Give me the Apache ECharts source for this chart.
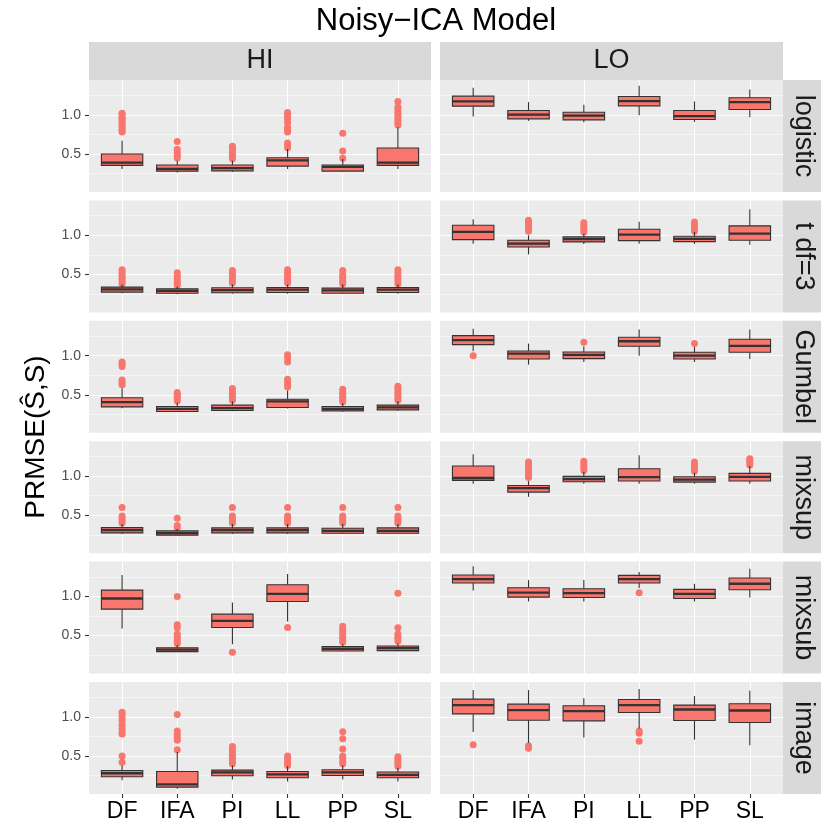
<!DOCTYPE html>
<html>
<head>
<meta charset="utf-8">
<script src="https://cdn.jsdelivr.net/npm/echarts@6/dist/echarts.min.js"></script>
<style>
  html, body { margin: 0; padding: 0; background: #fff; }
  #chart { width: 830px; height: 830px; }
</style>
</head>
<body>
<div id="chart"></div>
<script>
var methods = ['DF', 'IFA', 'PI', 'LL', 'PP', 'SL'];
var levels = ['HI', 'LO'];
var sources = ['logistic', 't df=3', 'Gumbel', 'mixsup', 'mixsub', 'image'];
var yTicks = [0.5, 1.0];
var yMinor = [0.25, 0.75, 1.25];
var xTicks = [0, 1, 2, 3, 4, 5];

// box stats per method: [lower whisker, Q1, median, Q3, upper whisker]
var logisticHI = [[0.31, 0.355, 0.39, 0.50, 0.67], [0.265, 0.282, 0.31, 0.359, 0.415], [0.27, 0.285, 0.32, 0.36, 0.415],
                  [0.31, 0.346, 0.42, 0.453, 0.564], [0.278, 0.282, 0.337, 0.359, 0.436], [0.31, 0.355, 0.39, 0.577, 0.842]];
var logisticLO = [[0.98, 1.111, 1.171, 1.239, 1.346], [0.923, 0.949, 1.004, 1.056, 1.162], [0.906, 0.936, 0.99, 1.034, 1.128],
                  [0.996, 1.115, 1.175, 1.235, 1.372], [0.91, 0.94, 0.983, 1.056, 1.171], [0.97, 1.068, 1.162, 1.218, 1.325]];
var tdfHI = [[0.26, 0.274, 0.31, 0.338, 0.372], [0.248, 0.26, 0.29, 0.316, 0.346], [0.252, 0.265, 0.30, 0.329, 0.372],
             [0.252, 0.269, 0.305, 0.333, 0.372], [0.25, 0.26, 0.295, 0.325, 0.372], [0.252, 0.269, 0.305, 0.333, 0.372]];
var tdfLO = [[0.893, 0.944, 1.043, 1.128, 1.205], [0.756, 0.85, 0.893, 0.936, 1.0], [0.889, 0.915, 0.95, 0.979, 1.02],
             [0.893, 0.932, 1.009, 1.077, 1.171], [0.889, 0.919, 0.955, 0.987, 1.043], [0.88, 0.936, 1.021, 1.12, 1.333]];
var gumbelHI = [[0.329, 0.346, 0.406, 0.462, 0.585], [0.28, 0.286, 0.32, 0.35, 0.40], [0.29, 0.30, 0.33, 0.368, 0.415],
                [0.325, 0.338, 0.415, 0.444, 0.556], [0.285, 0.295, 0.32, 0.35, 0.393], [0.295, 0.308, 0.34, 0.368, 0.419]];
var gumbelLO = [[1.056, 1.141, 1.197, 1.256, 1.342], [0.885, 0.957, 1.026, 1.06, 1.154], [0.919, 0.962, 1.01, 1.047, 1.12],
                [1.0, 1.12, 1.184, 1.235, 1.333], [0.919, 0.957, 1.0, 1.043, 1.111], [0.957, 1.043, 1.124, 1.209, 1.333]];
var mixsupHI = [[0.26, 0.274, 0.31, 0.342, 0.389], [0.24, 0.244, 0.27, 0.30, 0.325], [0.26, 0.274, 0.31, 0.338, 0.389],
                [0.26, 0.274, 0.31, 0.338, 0.389], [0.26, 0.269, 0.30, 0.333, 0.389], [0.26, 0.269, 0.30, 0.338, 0.389]];
var mixsupLO = [[0.902, 0.945, 0.975, 1.128, 1.278], [0.735, 0.795, 0.846, 0.88, 0.936], [0.902, 0.927, 0.96, 0.996, 1.056],
                [0.902, 0.936, 0.987, 1.094, 1.265], [0.902, 0.923, 0.955, 0.991, 1.043], [0.902, 0.936, 0.99, 1.034, 1.128]];
var mixsubHI = [[0.59, 0.838, 0.974, 1.081, 1.274], [0.29, 0.295, 0.32, 0.346, 0.38], [0.389, 0.603, 0.688, 0.774, 0.923],
                [0.68, 0.936, 1.034, 1.15, 1.286], [0.30, 0.303, 0.33, 0.359, 0.389], [0.30, 0.308, 0.34, 0.368, 0.40]];
var mixsubLO = [[1.077, 1.171, 1.222, 1.274, 1.385], [0.936, 0.991, 1.05, 1.111, 1.209], [0.936, 0.987, 1.043, 1.098, 1.209],
                [1.107, 1.171, 1.222, 1.269, 1.312], [0.936, 0.974, 1.034, 1.09, 1.162], [0.987, 1.085, 1.162, 1.235, 1.355]];
var imageHI = [[0.192, 0.235, 0.28, 0.316, 0.38], [0.081, 0.103, 0.137, 0.303, 0.551], [0.20, 0.248, 0.29, 0.32, 0.38],
               [0.175, 0.222, 0.265, 0.303, 0.368], [0.20, 0.252, 0.29, 0.325, 0.38], [0.175, 0.222, 0.26, 0.295, 0.35]];
var imageLO = [[0.808, 1.038, 1.15, 1.226, 1.342], [0.667, 0.957, 1.085, 1.162, 1.342], [0.735, 0.949, 1.073, 1.141, 1.239],
               [0.85, 1.056, 1.15, 1.222, 1.355], [0.709, 0.953, 1.094, 1.15, 1.265], [0.637, 0.927, 1.081, 1.167, 1.333]];

// outliers per method
var logisticHIOut = [[0.78, 0.80, 0.82, 0.85, 0.88, 0.90, 0.93, 0.95, 0.97, 1.00, 1.02], [0.45, 0.48, 0.52, 0.56, 0.66],
                     [0.44, 0.47, 0.50, 0.52, 0.55, 0.58, 0.60], [0.58, 0.61, 0.64, 0.78, 0.81, 0.84, 0.90, 0.94, 0.97, 1.00, 1.03],
                     [0.445, 0.54, 0.765], [0.87, 0.90, 0.93, 0.96, 0.99, 1.02, 1.05, 1.08, 1.10, 1.17]];
var logisticLOOut = [[], [], [], [], [], []];
var tdfHIOut = [[0.38, 0.41, 0.44, 0.47, 0.50, 0.53, 0.56], [0.36, 0.39, 0.42, 0.45, 0.48, 0.52], [0.39, 0.42, 0.45, 0.48, 0.51, 0.55],
                [0.39, 0.42, 0.45, 0.48, 0.52, 0.56], [0.38, 0.41, 0.44, 0.47, 0.50, 0.55], [0.38, 0.42, 0.45, 0.48, 0.52, 0.56]];
var tdfLOOut = [[], [1.05, 1.08, 1.11, 1.14, 1.17, 1.19], [1.04, 1.07, 1.10, 1.13, 1.16], [], [1.05, 1.08, 1.11, 1.14, 1.17], []];
var gumbelHIOut = [[0.63, 0.66, 0.69, 0.86, 0.89, 0.92], [0.42, 0.45, 0.48, 0.50, 0.53], [0.43, 0.46, 0.49, 0.52, 0.55, 0.58],
                   [0.60, 0.63, 0.66, 0.70, 0.92, 0.97, 1.01], [0.41, 0.44, 0.47, 0.50, 0.53, 0.57], [0.43, 0.46, 0.49, 0.52, 0.55, 0.58, 0.61]];
var gumbelLOOut = [[1.0], [], [1.17], [], [1.154], []];
var mixsupHIOut = [[0.40, 0.43, 0.46, 0.49, 0.60], [0.34, 0.37, 0.46], [0.40, 0.43, 0.46, 0.49, 0.60],
                   [0.40, 0.43, 0.46, 0.49, 0.60], [0.40, 0.43, 0.46, 0.49, 0.60], [0.40, 0.43, 0.46, 0.49, 0.60]];
var mixsupLOOut = [[], [0.98, 1.01, 1.05, 1.08, 1.12, 1.15, 1.18], [1.07, 1.10, 1.13, 1.16, 1.19], [],
                   [1.06, 1.09, 1.12, 1.15, 1.18], [1.14, 1.17, 1.20, 1.22]];
var mixsubHIOut = [[], [0.40, 0.43, 0.46, 0.49, 0.52, 0.60, 0.64, 1.0], [0.286], [0.603],
                   [0.42, 0.45, 0.48, 0.51, 0.55, 0.58, 0.62], [0.43, 0.46, 0.49, 0.52, 0.60, 1.04]];
var mixsubLOOut = [[], [], [], [1.047], [], []];
var imageHIOut = [[0.42, 0.50, 0.78, 0.81, 0.85, 0.90, 0.95, 0.99, 1.03, 1.06], [0.58, 0.70, 0.74, 0.78, 0.82, 1.03],
                  [0.40, 0.43, 0.46, 0.49, 0.52, 0.55, 0.58, 0.62], [0.38, 0.41, 0.44, 0.47, 0.50],
                  [0.40, 0.43, 0.47, 0.50, 0.59, 0.72, 0.81], [0.37, 0.40, 0.43, 0.46, 0.49]];
var imageLOOut = [[0.645], [0.60, 0.63], [], [0.69, 0.79, 0.82], [], []];

var boxes = [[logisticHI, logisticLO], [tdfHI, tdfLO], [gumbelHI, gumbelLO],
             [mixsupHI, mixsupLO], [mixsubHI, mixsubLO], [imageHI, imageLO]];
var outliers = [[logisticHIOut, logisticLOOut], [tdfHIOut, tdfLOOut], [gumbelHIOut, gumbelLOOut],
                [mixsupHIOut, mixsupLOOut], [mixsubHIOut, mixsubLOOut], [imageHIOut, imageLOOut]];

var FONT = '"Liberation Sans", Arial, sans-serif';
var panelX = [89, 440];
var panelW = [342, 343];
var panelTop0 = 80, panelStep = 120.4, panelH = 112;
var stripW = 38;
var yMin = 0.015, yMax = 1.445;

var chart = echarts.init(document.getElementById('chart'));

function renderBox(params, api) {
  var x = api.value(0);
  var lo = api.coord([x, api.value(1)]);
  var q1 = api.coord([x, api.value(2)]);
  var md = api.coord([x, api.value(3)]);
  var q3 = api.coord([x, api.value(4)]);
  var hi = api.coord([x, api.value(5)]);
  var hw = api.size([0.75, 0])[0] / 2;
  var ls = { stroke: '#333333', lineWidth: 1.1 };
  return {
    type: 'group',
    children: [
      { type: 'line', shape: { x1: hi[0], y1: hi[1], x2: q3[0], y2: q3[1] }, style: ls },
      { type: 'line', shape: { x1: q1[0], y1: q1[1], x2: lo[0], y2: lo[1] }, style: ls },
      { type: 'rect', shape: { x: q3[0] - hw, y: q3[1], width: 2 * hw, height: q1[1] - q3[1] },
        style: { fill: '#F8766D', stroke: '#333333', lineWidth: 1.1 } },
      { type: 'line', shape: { x1: md[0] - hw, y1: md[1], x2: md[0] + hw, y2: md[1] },
        style: { stroke: '#333333', lineWidth: 2.3 } }
    ]
  };
}

var grids = [], xAxes = [], yAxes = [], series = [], graphic = [];

for (var r = 0; r < sources.length; r++) {
  for (var c = 0; c < levels.length; c++) {
    var g = r * 2 + c;
    var panelY = panelTop0 + r * panelStep;
    grids.push({ left: panelX[c], top: panelY, width: panelW[c], height: panelH,
                 show: true, backgroundColor: '#EBEBEB', borderWidth: 0 });
    xAxes.push({
      gridIndex: g, type: 'value', min: -0.6, max: 5.6, position: 'bottom',
      axisLine: { show: false, onZero: false },
      axisTick: { show: r === 5, customValues: xTicks, length: 4, lineStyle: { color: '#333333', width: 1.1 } },
      axisLabel: { show: r === 5, customValues: xTicks, margin: 6, color: '#000', fontSize: 23, fontFamily: FONT,
                   formatter: function (v) { return methods[Math.round(v)]; } },
      splitLine: { show: true, lineStyle: { color: '#FFFFFF', width: 1.1 } }
    });
    yAxes.push({
      gridIndex: g, type: 'value', min: yMin, max: yMax, position: 'left',
      axisLine: { show: false, onZero: false },
      axisTick: { show: c === 0, customValues: yTicks, length: 4, lineStyle: { color: '#333333', width: 1.1 } },
      axisLabel: { show: c === 0, customValues: yTicks, margin: 8, color: '#4D4D4D', fontSize: 14, fontFamily: FONT,
                   formatter: function (v) { return v.toFixed(1); } },
      splitLine: { show: true, lineStyle: { color: '#FFFFFF', width: 1.1 } }
    });
    yAxes.push({
      gridIndex: g, type: 'value', min: yMin, max: yMax, position: 'right',
      axisLine: { show: false, onZero: false },
      axisTick: { show: false, customValues: yMinor },
      axisLabel: { show: false, customValues: yMinor },
      splitLine: { show: true, lineStyle: { color: '#FFFFFF', width: 0.55 } }
    });

    var pts = [];
    outliers[r][c].forEach(function (list, i) {
      list.forEach(function (v) { pts.push([i, v]); });
    });
    series.push({
      type: 'scatter', xAxisIndex: g, yAxisIndex: 2 * g, data: pts, symbolSize: 7, z: 2, silent: true,
      itemStyle: { color: '#F8766D', opacity: 1 }
    });
    series.push({
      type: 'custom', xAxisIndex: g, yAxisIndex: 2 * g, z: 3, silent: true,
      data: boxes[r][c].map(function (b, i) { return [i, b[0], b[1], b[2], b[3], b[4]]; }),
      encode: { x: 0, y: [1, 2, 3, 4, 5] },
      renderItem: renderBox
    });

    if (c === 1) {
      graphic.push({ type: 'rect', shape: { x: panelX[1] + panelW[1], y: panelY, width: stripW, height: panelH },
                     style: { fill: '#D9D9D9' } });
      graphic.push({ type: 'text', x: panelX[1] + panelW[1] + stripW / 2 + 1, y: panelY + panelH / 2, rotation: -Math.PI / 2,
                     style: { text: sources[r], fill: '#1A1A1A', font: '27px ' + FONT, align: 'center', verticalAlign: 'middle' } });
    }
  }
}

levels.forEach(function (lv, c) {
  graphic.push({ type: 'rect', shape: { x: panelX[c], y: 42, width: panelW[c], height: 38 }, style: { fill: '#D9D9D9' } });
  graphic.push({ type: 'text', x: panelX[c] + panelW[c] / 2, y: 61,
                 style: { text: lv, fill: '#1A1A1A', font: '27px ' + FONT, align: 'center', verticalAlign: 'middle' } });
});

graphic.push({ type: 'text', x: 436, y: 21,
               style: { text: 'Noisy\u2212ICA Model', fill: '#000', font: '31px ' + FONT, align: 'center', verticalAlign: 'middle' } });
graphic.push({ type: 'text', x: 36, y: 437, rotation: Math.PI / 2,
               style: { text: 'PRMSE(\u015C,S)', fill: '#000', font: '28px ' + FONT, align: 'center', verticalAlign: 'middle' } });

chart.setOption({
  animation: false,
  backgroundColor: '#FFFFFF',
  grid: grids,
  xAxis: xAxes,
  yAxis: yAxes,
  series: series,
  graphic: { elements: graphic }
});
</script>
</body>
</html>
